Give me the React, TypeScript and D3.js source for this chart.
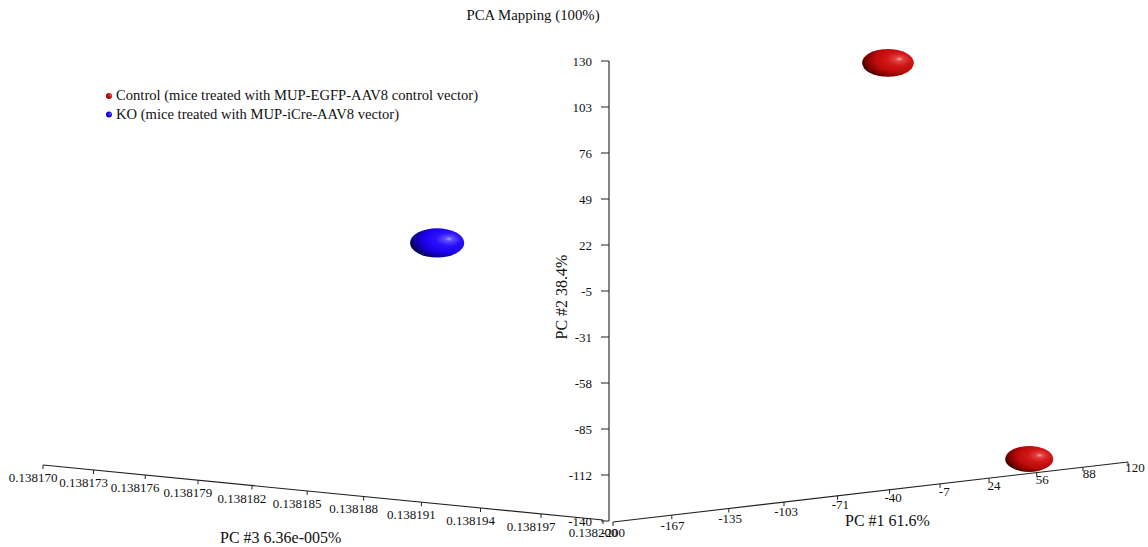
import React from "react";
import * as d3 from "d3";

// ---------- data ----------
const chartTitle = "PCA Mapping (100%)";
const groupNames = ["Control", "KO"];
const groupLabels = [
  "Control (mice treated with MUP-EGFP-AAV8 control vector)",
  "KO (mice treated with MUP-iCre-AAV8 vector)",
];
const sampleGroups = ["KO", "Control", "Control"];
const pc1Values = [-200, -38.5, 100];
const pc2Values = [18.5, 130, -140];
const pc3Values = [0.1381915, 0.1382, 0.1381966];

const pc1Domain = [-200, 120];
const pc2Domain = [-140, 130];
const pc3Domain = [0.1382, 0.13817];
const pc1TickLabels = ["-200", "-167", "-135", "-103", "-71", "-40", "-7", "24", "56", "88", "120"];
const pc2TickLabels = ["-140", "-112", "-85", "-58", "-31", "-5", "22", "49", "76", "103", "130"];
const pc3TickLabels = [
  "0.138200", "0.138197", "0.138194", "0.138191", "0.138188", "0.138185",
  "0.138182", "0.138179", "0.138176", "0.138173", "0.138170",
];
const pc1Title = "PC #1 61.6%";
const pc2Title = "PC #2 38.4%";
const pc3Title = "PC #3 6.36e-005%";

// ---------- layout / style ----------
const W = 1148;
const H = 547;
const FONT = "'Liberation Serif', 'Times New Roman', serif";
const colors: Record<string, string> = { Control: "red", KO: "blue" };

// perspective projection of normalised (u = PC1, v = PC3, h = PC2) coordinates
const O = [609, 521];
const Avec = [694.84, 13.76];
const Bvec = [-554.12, 0.92];
const Hvec = [0, -460];
const pa = 0.16;
const pb = 0.12;
function project(u: number, v: number, h: number) {
  const w = 1 + pa * u + pb * v;
  return {
    x: (O[0] + u * Avec[0] + v * Bvec[0] + h * Hvec[0]) / w,
    y: (O[1] + u * Avec[1] + v * Bvec[1] + h * Hvec[1]) / w,
    w,
  };
}

const sU = d3.scaleLinear().domain(pc1Domain).range([0, 1]);
const sV = d3.scaleLinear().domain(pc3Domain).range([0, 1]);
const sH = d3.scaleLinear().domain(pc2Domain).range([0, 1]);

const pc1Ticks = d3.range(pc1TickLabels.length).map(
  (i) => pc1Domain[0] + (i * (pc1Domain[1] - pc1Domain[0])) / (pc1TickLabels.length - 1)
);
const pc2Ticks = d3.range(pc2TickLabels.length).map(
  (i) => pc2Domain[0] + (i * (pc2Domain[1] - pc2Domain[0])) / (pc2TickLabels.length - 1)
);
const pc3Ticks = d3.range(pc3TickLabels.length).map(
  (i) => pc3Domain[0] + (i * (pc3Domain[1] - pc3Domain[0])) / (pc3TickLabels.length - 1)
);

const PC3_SHIFT = [-6, -1];
const PC1_SHIFT = [4, 1];

export default function App() {
  const line = d3.line<{ x: number; y: number }>().x((d) => d.x).y((d) => d.y);

  const pc3Pts = [0, 1].map((v) => {
    const p = project(0, v, 0);
    return { x: p.x + PC3_SHIFT[0], y: p.y + PC3_SHIFT[1] };
  });
  const pc1Pts = [0, 1].map((u) => {
    const p = project(u, 0, 0);
    return { x: p.x + PC1_SHIFT[0], y: p.y + PC1_SHIFT[1] };
  });
  const pc2Pts = [0, 1].map((h) => project(0, 0, h));

  const samples = pc1Values
    .map((v, i) => {
      const p = project(sU(v), sV(pc3Values[i]), sH(pc2Values[i]));
      return { ...p, group: sampleGroups[i] };
    })
    .sort((a, b) => b.w - a.w);

  return (
    <svg
      width={W}
      height={H}
      style={{ position: "absolute", left: 0, top: 0, background: "#fff" }}
      fontFamily={FONT}
    >
      <defs>
        <radialGradient id="g-red" cx="0.68" cy="0.4" r="0.75" fx="0.72" fy="0.36">
          <stop offset="0" stopColor="#f2a6a6" />
          <stop offset="0.1" stopColor="#e04444" />
          <stop offset="0.3" stopColor="#d21818" />
          <stop offset="0.6" stopColor="#bb0a0a" />
          <stop offset="0.82" stopColor="#7a0000" />
          <stop offset="1" stopColor="#160000" />
        </radialGradient>
        <radialGradient id="g-blue" cx="0.68" cy="0.4" r="0.75" fx="0.72" fy="0.36">
          <stop offset="0" stopColor="#a0a0ff" />
          <stop offset="0.1" stopColor="#5c4cff" />
          <stop offset="0.3" stopColor="#2a12ff" />
          <stop offset="0.6" stopColor="#1c00ea" />
          <stop offset="0.82" stopColor="#0c0090" />
          <stop offset="1" stopColor="#00001a" />
        </radialGradient>
      </defs>

      <text x={533} y={20} fontSize={14.8} textAnchor="middle" fill="#111">
        {chartTitle}
      </text>

      {/* legend */}
      {groupNames.map((g, i) => (
        <g key={g}>
          <circle cx={109} cy={96 + i * 18.5} r={3} fill={`url(#g-${colors[g]})`} />
          <text x={116} y={100 + i * 18.5} fontSize={14.6} fill="#111">
            {groupLabels[i]}
          </text>
        </g>
      ))}

      {/* PC3 axis */}
      <path d={line(pc3Pts) || ""} stroke="#222" strokeWidth={1.1} fill="none" />
      {pc3Ticks.map((t, i) => {
        const p = project(0, sV(t), 0);
        const x = p.x + PC3_SHIFT[0];
        const y = p.y + PC3_SHIFT[1];
        return (
          <g key={"p3" + i}>
            <line x1={x} x2={x} y1={y} y2={y + 4} stroke="#222" />
            <text x={x - 10} y={y + 17} fontSize={13} textAnchor="middle" fill="#111">
              {pc3TickLabels[i]}
            </text>
          </g>
        );
      })}

      {/* PC1 axis */}
      <path d={line(pc1Pts) || ""} stroke="#222" strokeWidth={1.1} fill="none" />
      {pc1Ticks.map((t, i) => {
        const u = sU(t);
        const p = project(u, 0, 0);
        const x = p.x + PC1_SHIFT[0];
        const y = p.y + PC1_SHIFT[1];
        return (
          <g key={"p1" + i}>
            <line x1={x} x2={x} y1={y} y2={y + 4} stroke="#222" />
            <text x={x + 7 * u} y={y + 15 - 5 * u} fontSize={13} textAnchor="middle" fill="#111">
              {pc1TickLabels[i]}
            </text>
          </g>
        );
      })}

      {/* PC2 axis */}
      <path d={line(pc2Pts) || ""} stroke="#222" strokeWidth={1.1} fill="none" />
      {pc2Ticks.map((t, i) => {
        const p = project(0, 0, sH(t));
        return (
          <g key={"p2" + i}>
            <line x1={p.x - 8} x2={p.x} y1={p.y} y2={p.y} stroke="#222" />
            <text x={p.x - 17} y={p.y} dy="0.35em" fontSize={13} textAnchor="end" fill="#111">
              {pc2TickLabels[i]}
            </text>
          </g>
        );
      })}

      {/* axis titles */}
      <text x={220} y={543} fontSize={16} fill="#111">
        {pc3Title}
      </text>
      <text x={845} y={526} fontSize={16} fill="#111">
        {pc1Title}
      </text>
      <text
        transform="translate(567,297) rotate(-90)"
        fontSize={16}
        textAnchor="middle"
        fill="#111"
      >
        {pc2Title}
      </text>

      {/* samples */}
      {samples.map((s, i) => {
        const rx = 28 / s.w;
        return (
          <ellipse
            key={"s" + i}
            cx={s.x}
            cy={s.y}
            rx={rx}
            ry={rx * 0.54}
            fill={`url(#g-${colors[s.group]})`}
          />
        );
      })}
    </svg>
  );
}
